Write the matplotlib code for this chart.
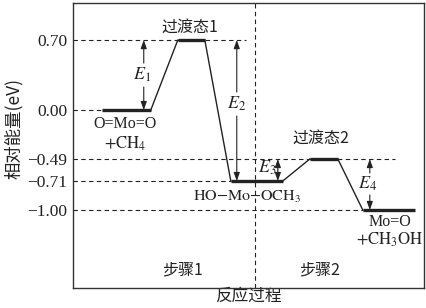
import matplotlib
matplotlib.use("Agg")
import matplotlib.pyplot as plt

plt.rcParams['mathtext.fontset'] = 'stix'
CJK = ['Noto Sans CJK SC', 'DejaVu Sans']
SERIF = ['Liberation Serif', 'DejaVu Serif']

# energies of the states (eV)
energies = [0.00, 0.70, -0.71, -0.49, -1.00]
tick_vals = [0.70, 0.00, -0.49, -0.71, -1.00]
tick_labels = ['0.70', '0.00', '\u22120.49', '\u22120.71', '\u22121.00']

# where each plateau sits along the reaction coordinate
x_start = [0.83, 2.99, 4.50, 6.75, 8.26]
x_end = [2.22, 3.76, 5.98, 7.55, 9.74]

ink = '#222222'

fig = plt.figure(figsize=(4.26, 3.08), dpi=100)
ax = fig.add_axes([0.171, 0.065, 0.824, 0.925])
ax.set_xlim(0, 10)
ax.set_ylim(-1.78, 1.07)

# plateaus and connectors
for i, e in enumerate(energies):
    ax.plot([x_start[i], x_end[i]], [e, e], color=ink, lw=2.4, solid_capstyle='butt')
    if i > 0:
        ax.plot([x_end[i - 1], x_start[i]], [energies[i - 1], e], color=ink, lw=1.0)

# dashed guide lines from the axis
guide_end = [4.93, x_start[0], 9.17, x_start[2], x_start[4]]
for v, xe in zip(tick_vals, guide_end):
    ax.plot([0, xe], [v, v], color=ink, lw=0.8, ls=(0, (4, 3)))

# step divider
ax.axvline(5.19, color=ink, lw=0.8, ls=(0, (4, 3)))

arrow_kw = dict(arrowstyle='-|>,head_length=0.5,head_width=0.18', color=ink, lw=0.8,
                shrinkA=0, shrinkB=0)


def split_arrow(x, lo, hi, ylab, gap, label, xlab=None):
    ax.annotate('', xy=(x, hi), xytext=(x, ylab + gap), arrowprops=arrow_kw)
    ax.annotate('', xy=(x, lo), xytext=(x, ylab - gap), arrowprops=arrow_kw)
    ax.text(x if xlab is None else xlab, ylab, label, ha='center', va='center',
            fontsize=13, color=ink)


split_arrow(2.02, 0.00, 0.70, 0.35, 0.12, '$E_1$', xlab=1.98)
split_arrow(4.67, -0.71, 0.70, 0.06, 0.12, '$E_2$', xlab=4.66)
split_arrow(8.46, -1.00, -0.49, -0.74, 0.11, '$E_4$', xlab=8.40)

# E3: plain double arrow, label to the left
ax.annotate('', xy=(5.84, -0.49), xytext=(5.84, -0.60), arrowprops=arrow_kw)
ax.annotate('', xy=(5.84, -0.71), xytext=(5.84, -0.60), arrowprops=arrow_kw)
ax.text(5.53, -0.58, '$E_3$', ha='center', va='center', fontsize=13, color=ink)

# state labels
ax.text(3.33, 0.83, '过渡态1', ha='center', va='center', fontsize=11.5, family=CJK, color=ink)
ax.text(7.07, -0.28, '过渡态2', ha='center', va='center', fontsize=11.5, family=CJK, color=ink)
ax.text(1.48, -0.14, 'O=Mo=O', ha='center', va='center', fontsize=11.5, family=SERIF, color=ink)
ax.text(1.48, -0.34, '$\\mathrm{+CH_4}$', ha='center', va='center', fontsize=12, color=ink)
ax.text(4.95, -0.87, '$\\mathrm{HO{-}Mo{-}OCH_3}$', ha='center', va='center', fontsize=11.5, color=ink)
ax.text(9.03, -1.12, 'Mo=O', ha='center', va='center', fontsize=11.5, family=SERIF, color=ink)
ax.text(9.03, -1.30, '$\\mathrm{+CH_3OH}$', ha='center', va='center', fontsize=12, color=ink)
ax.text(3.13, -1.60, '步骤1', ha='center', va='center', fontsize=11.5, family=CJK, color=ink)
ax.text(7.04, -1.60, '步骤2', ha='center', va='center', fontsize=11.5, family=CJK, color=ink)

ax.set_yticks(tick_vals)
ax.set_yticklabels(tick_labels, family=SERIF, fontsize=12.5, color=ink)
ax.set_xticks([])
ax.tick_params(axis='y', length=0, pad=4)
ax.set_xlabel('反应过程', family=CJK, fontsize=12, color=ink, labelpad=0)
ax.set_ylabel('相对能量(eV)', family=CJK, fontsize=12.5, color=ink)
ax.yaxis.set_label_coords(-0.143, 0.56)
for s in ax.spines.values():
    s.set_color('#333333')
    s.set_linewidth(1.0)

fig.savefig('out.png', dpi=100)
